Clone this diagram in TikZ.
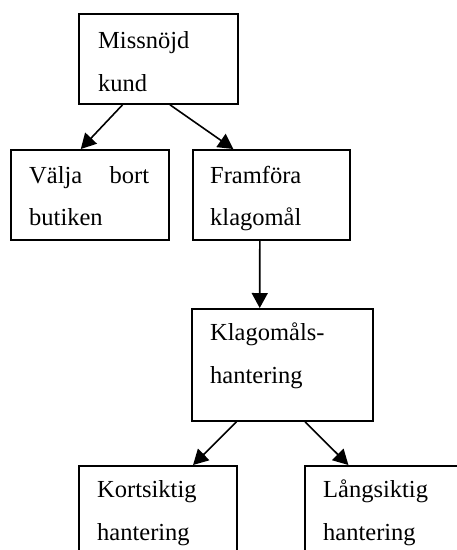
\documentclass[tikz,border=0pt]{standalone}
\usepackage{fontspec}
\setmainfont{Liberation Serif}
\usetikzlibrary{arrows.meta,calc}
\begin{document}
\begin{tikzpicture}[x=1pt,y=-1pt,
  box/.style={draw=black,line width=1.8pt,rectangle,inner sep=0pt,anchor=north west},
  txt/.style={anchor=base west,inner sep=0pt,font=\fontsize{24.5}{28}\selectfont},
  conn/.style={line width=1.6pt,-{Triangle[length=15pt,width=16pt]}}]
\useasboundingbox (0,0) rectangle (457,550);
\clip (0,0) rectangle (457,550);
% boxes
\node[box,minimum width=159pt,minimum height=90pt] (a) at (78,13) {};
\node[box,minimum width=158pt,minimum height=90pt] (b) at (10,149) {};
\node[box,minimum width=157pt,minimum height=90pt] (c) at (192,149) {};
\node[box,minimum width=181pt,minimum height=112pt] (d) at (191,308) {};
\node[box,minimum width=158pt,minimum height=140pt] (e) at (78,465) {};
\node[box,minimum width=158pt,minimum height=140pt] (f) at (304,465) {};
% texts
\node[txt] (a1) at (98,48) {Missnöjd};
\node[txt] (a2) at (98,91) {kund};
\node[txt] (b1) at (29,183) {\hbox to 120pt{Välja\hfill bort}};
\node[txt] (b2) at (29,225) {butiken};
\node[txt] (c1) at (210,183) {Framföra};
\node[txt] (c2) at (210,225) {klagomål};
\node[txt] (d1) at (210,340) {Klagomåls-};
\node[txt] (d2) at (210,383) {hantering};
\node[txt] (e1) at (97,497) {Kortsiktig};
\node[txt] (e2) at (97,540) {hantering};
\node[txt] (f1) at (323,497) {Långsiktig};
\node[txt] (f2) at (323,540) {hantering};
% connectors
\draw[conn] ($(a.south west)!0.277!(a.south east)$) -- ($(b.north west)!0.443!(b.north east)$);
\draw[conn] ($(a.south west)!0.572!(a.south east)$) -- ($(c.north west)!0.26!(c.north east)$);
\draw[conn] ($(c.south west)!0.427!(c.south east)$) -- ($(d.north west)!0.376!(d.north east)$);
\draw[conn] ($(d.south west)!0.249!(d.south east)$) -- ($(e.north west)!0.72!(e.north east)$);
\draw[conn] ($(d.south west)!0.624!(d.south east)$) -- ($(f.north west)!0.278!(f.north east)$);
\end{tikzpicture}
\end{document}
